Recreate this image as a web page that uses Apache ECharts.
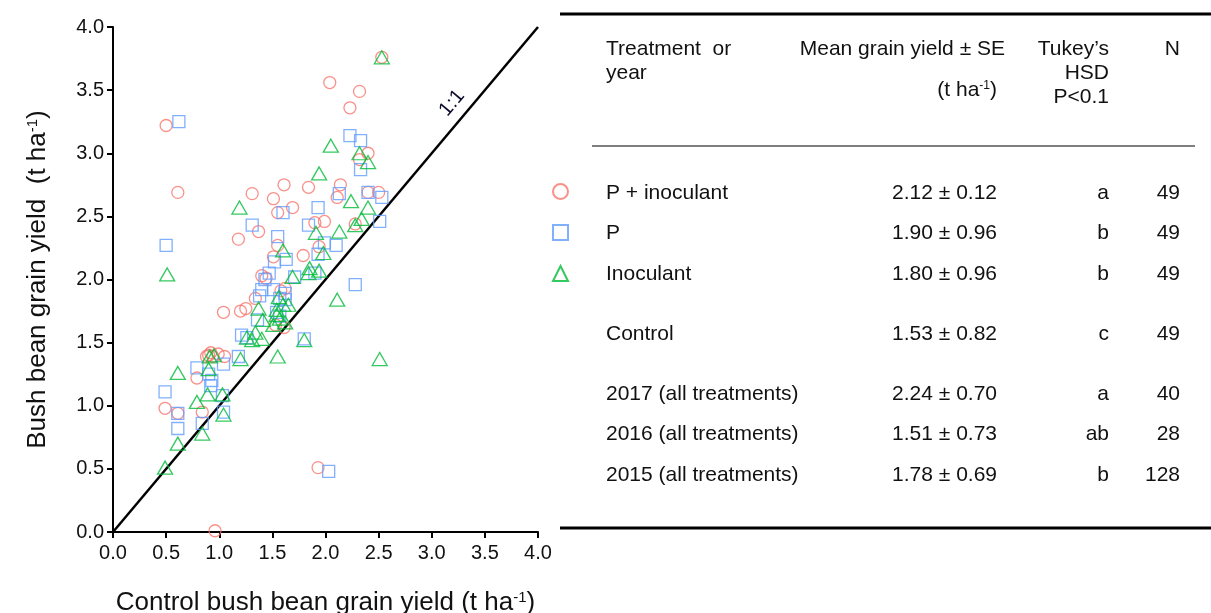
<!DOCTYPE html>
<html>
<head>
<meta charset="utf-8">
<title>Bush bean grain yield</title>
<script src="https://cdn.jsdelivr.net/npm/echarts@6/dist/echarts.min.js"></script>
<style>
html, body { margin: 0; padding: 0; background: #fff; }
#main { width: 1211px; height: 613px; }
</style>
</head>
<body>
<div id="main"></div>
<script>
// [control yield, treatment yield] pairs, t/ha
var pInoculant = [
  [0.50, 3.22], [0.61, 2.69], [2.04, 3.56], [2.32, 3.49], [2.23, 3.36], [2.53, 3.76], [2.40, 3.00],
  [2.32, 2.95], [1.61, 2.75], [1.84, 2.73], [2.14, 2.75], [1.31, 2.68], [1.51, 2.64], [1.69, 2.57],
  [1.55, 2.53], [2.11, 2.65], [2.40, 2.69], [2.50, 2.69], [1.90, 2.45], [1.99, 2.46], [1.37, 2.38],
  [1.18, 2.32], [2.28, 2.44], [1.55, 2.27], [1.51, 2.18], [1.79, 2.19], [1.94, 2.26], [1.40, 2.03],
  [1.44, 2.01], [1.62, 1.93], [1.34, 1.85], [1.20, 1.75], [1.25, 1.77], [1.04, 1.74], [1.53, 1.64],
  [1.61, 1.62], [0.90, 1.40], [0.94, 1.39], [0.88, 1.39], [1.05, 1.39], [0.79, 1.22], [0.49, 0.98],
  [0.61, 0.94], [0.84, 0.95], [0.96, 0.01], [1.93, 0.51], [1.58, 1.91], [0.92, 1.42], [0.99, 1.41]
];
var pOnly = [
  [0.62, 3.25], [0.50, 2.27], [2.23, 3.14], [2.33, 3.10], [2.33, 2.87], [2.13, 2.68], [2.40, 2.69],
  [2.53, 2.65], [1.93, 2.57], [1.60, 2.53], [1.31, 2.43], [1.84, 2.43], [2.51, 2.46], [1.55, 2.34],
  [1.99, 2.29], [2.10, 2.27], [1.93, 2.20], [1.63, 2.16], [1.52, 2.14], [1.47, 2.05], [1.43, 2.00],
  [1.71, 2.02], [1.90, 2.05], [2.28, 1.96], [1.38, 1.87], [1.51, 1.92], [1.57, 1.85], [1.36, 1.68],
  [1.54, 1.74], [1.57, 1.71], [1.21, 1.56], [1.26, 1.54], [1.80, 1.53], [1.18, 1.39], [1.04, 1.33],
  [0.79, 1.30], [0.90, 1.25], [0.93, 1.20], [0.92, 1.16], [0.49, 1.11], [1.03, 1.08], [0.61, 0.94],
  [0.61, 0.82], [0.84, 0.86], [1.04, 0.95], [2.03, 0.48], [1.62, 1.89], [1.40, 1.92], [1.62, 1.84]
];
var inoculant = [
  [2.53, 3.76], [2.05, 3.06], [2.32, 3.00], [2.40, 2.93], [1.94, 2.84], [1.19, 2.57], [0.51, 2.04],
  [2.24, 2.62], [2.40, 2.57], [2.34, 2.48], [2.28, 2.43], [2.13, 2.38], [1.91, 2.37], [1.60, 2.23],
  [1.98, 2.21], [1.69, 2.02], [1.84, 2.05], [1.94, 2.07], [1.85, 2.09], [2.11, 1.84], [1.56, 1.86],
  [1.60, 1.80], [1.65, 1.80], [1.37, 1.77], [1.41, 1.68], [1.51, 1.64], [1.57, 1.69], [1.62, 1.66],
  [1.54, 1.72], [1.34, 1.58], [1.26, 1.54], [1.40, 1.53], [1.31, 1.52], [1.80, 1.52], [1.55, 1.39],
  [1.20, 1.37], [0.91, 1.39], [0.95, 1.40], [0.61, 1.26], [0.90, 1.29], [0.89, 1.09], [0.79, 1.03],
  [1.03, 1.09], [1.04, 0.93], [0.84, 0.78], [0.61, 0.70], [0.49, 0.51], [2.51, 1.37], [1.54, 1.76]
];
var oneToOne = [[0, 0], [4, 4]];

// table on the right
var tableNames = ['P + inoculant', 'P', 'Inoculant', 'Control',
  '2017 (all treatments)', '2016 (all treatments)', '2015 (all treatments)'];
var tableMeans = ['2.12 ± 0.12', '1.90 ± 0.96', '1.80 ± 0.96', '1.53 ± 0.82',
  '2.24 ± 0.70', '1.51 ± 0.73', '1.78 ± 0.69'];
var tableLetters = ['a', 'b', 'b', 'c', 'a', 'ab', 'b'];
var tableN = ['49', '49', '49', '49', '40', '28', '128'];

var FONT = '"Liberation Sans", Arial, sans-serif';
var INK = '#111';
var rowY = [193, 233, 274, 334, 394, 434, 475];

function txt(x, y, s, align, extra) {
  var style = {
    text: s,
    fill: INK,
    font: '21px ' + FONT,
    align: align || 'left',
    verticalAlign: 'middle'
  };
  if (extra) {
    for (var k in extra) style[k] = extra[k];
  }
  return { type: 'text', x: x, y: y, style: style, silent: true };
}

var graphics = [
  { type: 'line', shape: { x1: 560, y1: 14, x2: 1211, y2: 14 }, style: { stroke: '#000', lineWidth: 3 } },
  { type: 'line', shape: { x1: 592, y1: 146, x2: 1195, y2: 146 }, style: { stroke: '#555', lineWidth: 1.5 } },
  { type: 'line', shape: { x1: 560, y1: 528, x2: 1211, y2: 528 }, style: { stroke: '#000', lineWidth: 3 } },
  txt(606, 49, 'Treatment  or'),
  txt(606, 73, 'year'),
  txt(1005, 49, 'Mean grain yield ± SE', 'right'),
  txt(997, 90, '(t ha{sup|-1})', 'right', { rich: { sup: { fontSize: 12, verticalAlign: 'top', fill: INK, fontFamily: FONT } } }),
  txt(1109, 49, 'Tukey\u2019s', 'right'),
  txt(1109, 73, 'HSD', 'right'),
  txt(1109, 97, 'P<0.1', 'right'),
  txt(1180, 49, 'N', 'right'),
  // 1:1 label along the diagonal
  {
    type: 'text', x: 452, y: 103, rotation: 0.87, silent: true,
    style: { text: '1:1', fill: '#0b0b2a', font: '20px ' + FONT, align: 'center', verticalAlign: 'middle' }
  }
];
for (var i = 0; i < tableNames.length; i++) {
  graphics.push(txt(606, rowY[i], tableNames[i]));
  graphics.push(txt(997, rowY[i], tableMeans[i], 'right'));
  graphics.push(txt(1109, rowY[i], tableLetters[i], 'right'));
  graphics.push(txt(1180, rowY[i], tableN[i], 'right'));
}

function axisOpts(name, gap, rotate, labelMargin) {
  return {
    type: 'value',
    min: 0,
    max: 4,
    interval: 0.5,
    name: name,
    nameLocation: 'middle',
    nameGap: gap,
    nameRotate: rotate,
    nameTextStyle: {
      fontFamily: FONT, fontSize: 26, color: INK,
      rich: { sup: { fontFamily: FONT, fontSize: 15, color: INK, verticalAlign: 'top' } }
    },
    axisLine: { show: true, onZero: false, lineStyle: { color: '#000', width: 2 } },
    axisTick: { show: true, inside: false, length: 6, lineStyle: { color: '#000', width: 2 } },
    axisLabel: {
      fontFamily: FONT, fontSize: 20, color: INK, margin: labelMargin,
      formatter: function (v) { return v.toFixed(1); }
    },
    splitLine: { show: false }
  };
}

function hollow(name, data, symbol, size, color) {
  return {
    name: name,
    type: 'scatter',
    data: data,
    symbol: symbol,
    symbolSize: size,
    itemStyle: { color: 'rgba(0,0,0,0)', borderColor: color, borderWidth: 1.3 },
    emphasis: { disabled: true },
    z: 3
  };
}

var chart = echarts.init(document.getElementById('main'));
var option = {
  animation: false,
  backgroundColor: '#fff',
  grid: { left: 113, right: 673, top: 27, bottom: 81, containLabel: false, outerBoundsMode: 'none' },
  xAxis: axisOpts('Control bush bean grain yield (t ha{sup|-1})', 58, 0, 11),
  yAxis: axisOpts('Bush bean grain yield  (t ha{sup|-1})', 62, 90, 9),
  legend: {
    orient: 'vertical',
    left: 547,
    top: 178,
    itemWidth: 15,
    itemHeight: 15,
    itemGap: 24,
    formatter: function () { return ''; },
    selectedMode: false,
    data: ['P + inoculant', 'P', 'Inoculant']
  },
  graphic: graphics,
  series: [
    {
      name: '1:1',
      type: 'line',
      data: oneToOne,
      symbol: 'none',
      silent: true,
      lineStyle: { color: '#000', width: 2.5 },
      z: 2
    },
    hollow('P + inoculant', pInoculant, 'circle', 12, '#F8766D'),
    hollow('P', pOnly, 'rect', 12, '#619CFF'),
    hollow('Inoculant', inoculant, 'triangle', [15, 13], '#00BA38')
  ]
};
chart.setOption(option);
</script>
</body>
</html>
